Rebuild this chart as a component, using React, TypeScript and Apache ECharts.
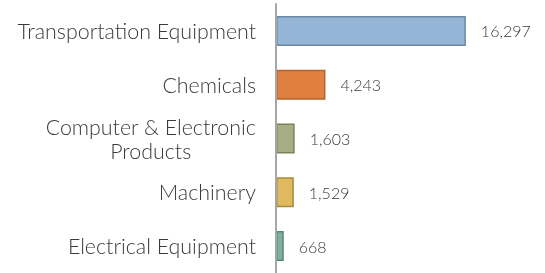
import React, { useEffect, useRef } from "react";
import * as echarts from "echarts";

const categories = [
  "Transportation Equipment",
  "Chemicals",
  "Computer & Electronic\nProducts",
  "Machinery",
  "Electrical Equipment",
];
const values = [16297, 4243, 1603, 1529, 668];
const fillColors = ["#94b5d6", "#e08040", "#a6ae84", "#dfb95f", "#7fb1a1"];
const borderColors = ["#6c88a4", "#b5622c", "#7b835d", "#a78b3d", "#58877a"];

const fmt = (v: number) => v.toString().replace(/\B(?=(\d{3})+(?!\d))/g, ",");

export default function App() {
  const ref = useRef<HTMLDivElement>(null);
  useEffect(() => {
    if (!ref.current) return;
    const chart = echarts.init(ref.current, null, { renderer: "svg" });
    chart.setOption({
      animation: false,
      grid: { left: 276, right: 36, top: 4, height: 270 },
      xAxis: {
        type: "value",
        min: 0,
        max: 20000,
        show: false,
      },
      yAxis: {
        type: "category",
        inverse: true,
        data: categories,
        axisTick: { show: false },
        axisLine: { show: true, lineStyle: { color: "#a6a6a6", width: 2 } },
        axisLabel: {
          margin: 20,
          color: "#3a3a3a",
          fontFamily: "Lato",
          fontWeight: 300,
          fontSize: 21.4,
          lineHeight: 24,
          formatter: (v: string) =>
            v
              .split("\n")
              .map((l) => `{c|${l}}`)
              .join("\n"),
          rich: {
            c: {
              align: "center",
              color: "#3a3a3a",
              fontFamily: "Lato",
              fontWeight: 300,
              fontSize: 21.4,
              lineHeight: 24,
            },
          },
        },
        z: 5,
      },
      series: [
        {
          type: "bar",
          barWidth: 30,
          data: values.map((v, i) => ({
            value: v,
            itemStyle: {
              color: fillColors[i],
              borderColor: borderColors[i],
              borderWidth: 1.5,
            },
          })),
          label: {
            show: true,
            position: "right",
            distance: 15,
            color: "#3a3a3a",
            fontFamily: "Lato",
            fontWeight: 300,
            fontSize: 16,
            formatter: (p: any) => fmt(p.value),
          },
        },
      ],
    });
    return () => chart.dispose();
  }, []);
  return (
    <div
      ref={ref}
      style={{ position: "fixed", left: 0, top: 0, width: 545, height: 273 }}
    />
  );
}
